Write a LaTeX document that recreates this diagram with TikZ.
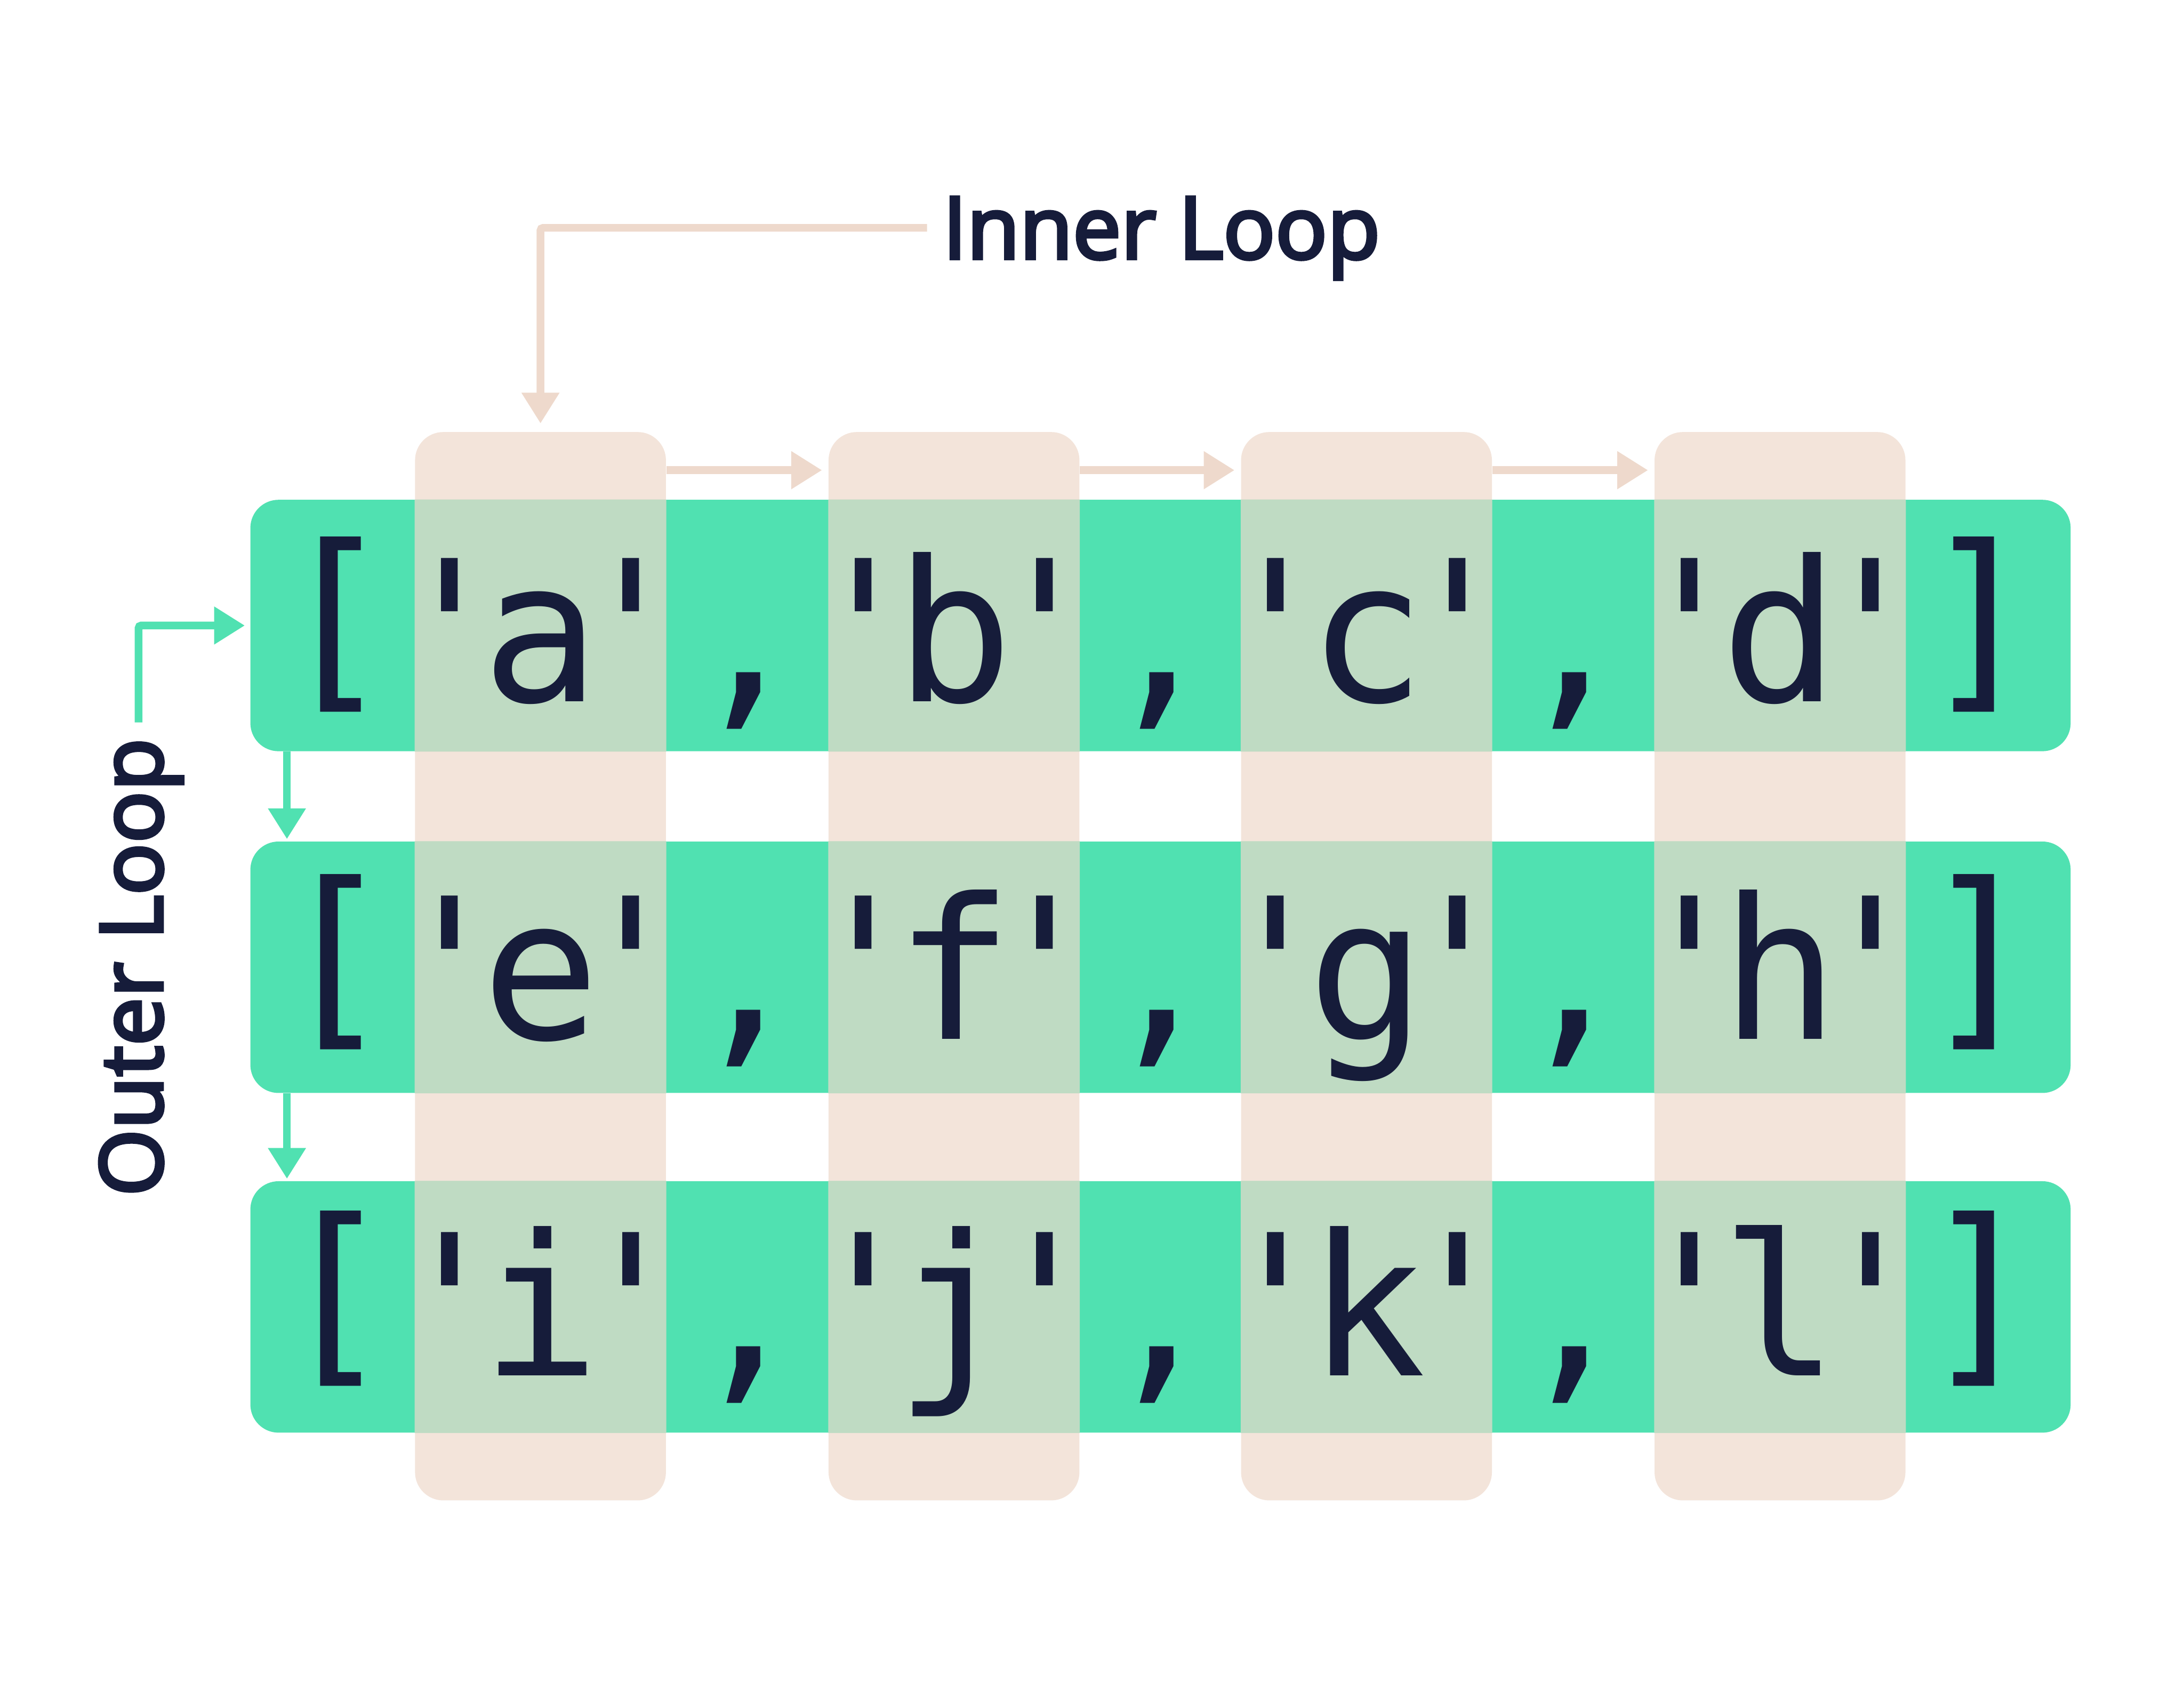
\documentclass[tikz,border=0pt]{standalone}
\usepackage{fontspec}
\setmonofont{DejaVu Sans Mono}
\newfontfamily\labelfont{Open Sans}[FakeBold=4]
\usetikzlibrary{arrows.meta,positioning,calc}
\definecolor{rowgreen}{RGB}{80,225,177}
\definecolor{colpink}{RGB}{243,228,218}
\definecolor{cellmix}{RGB}{191,219,195}
\definecolor{arrowpink}{RGB}{238,217,204}
\definecolor{inkblue}{RGB}{22,28,58}

\begin{document}
\begin{tikzpicture}[
  colbox/.style={fill=colpink,rounded corners=0.55cm,minimum width=4.89cm,minimum height=20.82cm,inner sep=0pt},
  rowbox/.style={fill=rowgreen,rounded corners=0.55cm,minimum width=35.48cm,minimum height=4.9cm,inner sep=0pt},
  code/.style={font=\ttfamily\fontsize{109}{120}\selectfont,text=inkblue,anchor=base,inner sep=0pt},
  looplabel/.style={font=\labelfont\fontsize{47.8}{50}\selectfont,text=inkblue,inner xsep=0.3cm,inner ysep=0pt,text depth=0pt},
  pinkline/.style={draw=arrowpink,line width=0.15cm,-{Triangle[length=0.6cm,width=0.7cm]}},
  greenline/.style={draw=rowgreen,line width=0.15cm,-{Triangle[length=0.6cm,width=0.7cm]}}
]
\useasboundingbox (0,0) rectangle (42.57,-33.24);
\fill[white] (0,0) rectangle (42.57,-33.24);

% inner loop columns
\node[colbox] (col1) at (10.535,-18.83) {};
\node[colbox] (col2) at (18.595,-18.83) {};
\node[colbox] (col3) at (26.635,-18.83) {};
\node[colbox] (col4) at (34.695,-18.83) {};

% outer loop rows
\node[rowbox] (row1) at (22.62,-12.19) {};
\node[rowbox] (row2) at (22.62,-18.85) {};
\node[rowbox] (row3) at (22.62,-25.47) {};

% where they cross
\fill[cellmix] (col1.west |- row1.north) rectangle (col1.east |- row1.south) (col2.west |- row1.north) rectangle (col2.east |- row1.south) (col3.west |- row1.north) rectangle (col3.east |- row1.south) (col4.west |- row1.north) rectangle (col4.east |- row1.south);
\fill[cellmix] (col1.west |- row2.north) rectangle (col1.east |- row2.south) (col2.west |- row2.north) rectangle (col2.east |- row2.south) (col3.west |- row2.north) rectangle (col3.east |- row2.south) (col4.west |- row2.north) rectangle (col4.east |- row2.south);
\fill[cellmix] (col1.west |- row3.north) rectangle (col1.east |- row3.south) (col2.west |- row3.north) rectangle (col2.east |- row3.south) (col3.west |- row3.north) rectangle (col3.east |- row3.south) (col4.west |- row3.north) rectangle (col4.east |- row3.south);

% first list
\node[code] (open1) at (6.53,-13.37) {[};
\node[code] (a) at (10.535,-13.67) {'\kern-.54cm a\kern-.54cm '};
\node[code] (sep1a) at (14.565,-13.67) {,};
\node[code] (b) at (18.595,-13.67) {'\kern-.54cm b\kern-.54cm '};
\node[code] (sep1b) at (22.615,-13.67) {,};
\node[code] (c) at (26.635,-13.67) {'\kern-.54cm c\kern-.54cm '};
\node[code] (sep1c) at (30.665,-13.67) {,};
\node[code] (d) at (34.695,-13.67) {'\kern-.54cm d\kern-.54cm '};
\node[code] (close1) at (38.58,-13.37) {]};

% second list
\node[code] (open2) at (6.53,-19.95) {[};
\node[code] (e) at (10.535,-20.25) {'\kern-.54cm e\kern-.54cm '};
\node[code] (sep2a) at (14.565,-20.25) {,};
\node[code] (f) at (18.595,-20.25) {'\kern-.54cm f\kern-.54cm '};
\node[code] (sep2b) at (22.615,-20.25) {,};
\node[code] (g) at (26.635,-20.25) {'\kern-.54cm g\kern-.54cm '};
\node[code] (sep2c) at (30.665,-20.25) {,};
\node[code] (h) at (34.695,-20.25) {'\kern-.54cm h\kern-.54cm '};
\node[code] (close2) at (38.58,-19.95) {]};

% third list
\node[code] (open3) at (6.53,-26.51) {[};
\node[code] (i) at (10.535,-26.81) {'\kern-.54cm i\kern-.54cm '};
\node[code] (sep3a) at (14.565,-26.81) {,};
\node[code] (j) at (18.595,-26.81) {'\kern-.54cm j\kern-.54cm '};
\node[code] (sep3b) at (22.615,-26.81) {,};
\node[code] (k) at (26.635,-26.81) {'\kern-.54cm k\kern-.54cm '};
\node[code] (sep3c) at (30.665,-26.81) {,};
\node[code] (l) at (34.695,-26.81) {'\kern-.54cm l\kern-.54cm '};
\node[code] (close3) at (38.58,-26.51) {]};

% labels
\node[looplabel,anchor=base west] (inner) at (18.07,-5.04) {Inner Loop};
\node[looplabel,rotate=90,anchor=base] (outer) at (3.16,-18.85) {Outer Loop};

% inner loop arrows
\draw[pinkline,rounded corners=0.05cm,shorten >=0.16cm] (inner.west) -| (col1.north);
\draw[pinkline,shorten >=0.12cm] ([yshift=-0.75cm]col1.north east) -- ([yshift=-0.75cm]col2.north west);
\draw[pinkline,shorten >=0.12cm] ([yshift=-0.75cm]col2.north east) -- ([yshift=-0.75cm]col3.north west);
\draw[pinkline,shorten >=0.12cm] ([yshift=-0.75cm]col3.north east) -- ([yshift=-0.75cm]col4.north west);

% outer loop arrows
\draw[greenline,rounded corners=0.05cm,shorten >=0.1cm] ([xshift=0.15cm]outer.east) |- (row1.west);
\draw[greenline,shorten >=0.04cm] ([xshift=0.72cm]row1.south west) -- ([xshift=0.72cm]row2.north west);
\draw[greenline,shorten >=0.04cm] ([xshift=0.72cm]row2.south west) -- ([xshift=0.72cm]row3.north west);
\end{tikzpicture}
\end{document}
